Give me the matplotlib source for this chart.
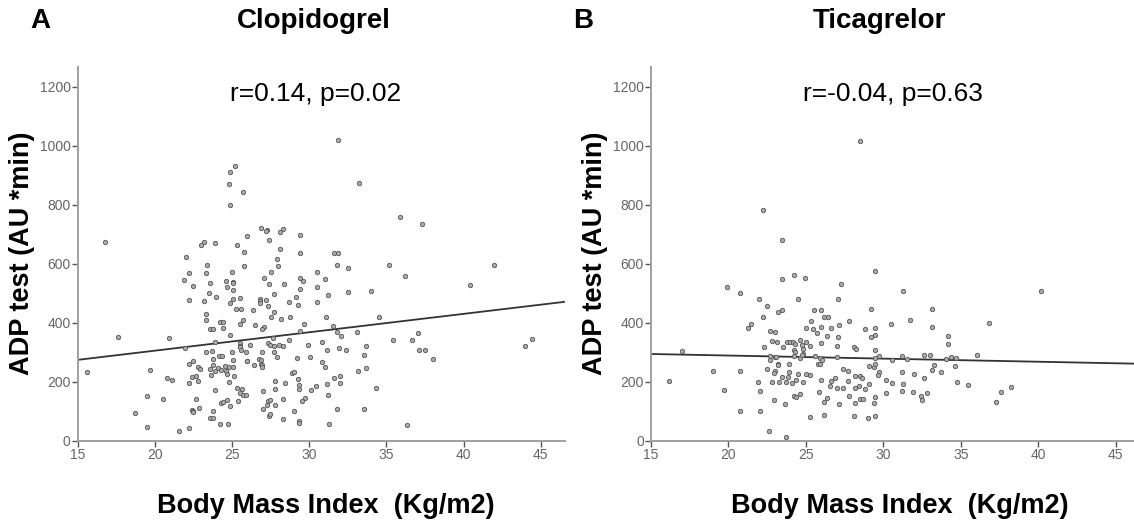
"""
ADP test vs Body Mass Index - Clopidogrel / Ticagrelor
Nuage de points + droite de régression (style SPSS)
"""

import numpy as np
import matplotlib
matplotlib.use("Agg")
import matplotlib.pyplot as plt

plt.rcParams["font.family"] = ["Liberation Sans", "DejaVu Sans"]

# --- Clopidogrel : BMI (kg/m2) et ADP test (AU*min) ---
bmi_clop = [
    25.2, 24.9, 24.8, 25.7, 24.9, 16.8, 26.9, 27.3, 27.2, 28.3, 28.1, 27.4, 26.0, 23.2, 23.0,
    23.9, 25.3, 25.8, 28.1, 27.9, 28.0, 22.0, 23.4, 25.8, 22.2, 23.3, 25.0, 27.5, 29.4, 29.4,
    27.1, 29.4, 21.9,
    31.9, 33.2, 35.9, 37.3, 31.6, 31.9, 31.8, 32.5, 35.2, 42.0, 30.5, 36.2, 31.0,
    22.5, 23.6, 24.6, 25.1, 25.05, 24.7, 25.1, 27.4, 28.4, 23.5, 24.0, 25.1, 25.5, 22.2, 23.2,
    24.9, 26.8, 26.85, 26.8, 27.2, 27.75, 29.15, 28.7, 25.25, 25.6, 26.35, 27.35, 27.75, 29.3,
    23.3, 23.3, 27.5, 28.2, 28.75, 25.7, 25.55, 24.2, 24.4, 26.5, 27.1, 26.95, 23.55, 23.8,
    24.45, 24.9, 17.6, 20.9, 27.65, 28.7, 23.9, 25.5, 25.5, 25.55, 25.6, 26.2, 27.35, 27.45,
    27.7, 28.05, 28.3, 21.95, 23.3, 23.7, 25.0, 25.9, 26.95, 27.75, 27.95, 29.2, 24.15, 24.35,
    23.8, 22.5, 25.05, 25.95, 26.0, 26.75, 26.9, 26.9, 26.4, 26.95, 26.95, 22.2, 22.8, 22.95,
    23.8, 24.55, 24.8, 25.05, 24.1, 24.3, 23.6, 23.9, 24.6, 24.65, 25.15, 23.65, 22.4, 22.65,
    19.7, 15.6, 20.8, 21.1, 22.2, 22.8, 23.9, 24.8, 25.35, 25.5, 25.7, 25.9, 25.65, 27.0, 27.8,
    27.8, 28.45, 28.9, 29.0, 29.25, 29.35, 29.35, 19.5, 20.55, 22.7, 22.85, 22.4, 22.45, 22.5,
    23.55, 23.75, 23.8, 24.3, 24.4, 24.7, 24.9, 24.2, 24.75, 25.4, 18.7, 19.5, 21.55, 22.2,
    27.0, 27.3, 27.35, 27.45, 27.4, 27.45, 27.8, 28.3, 28.3, 29.05, 29.35, 29.35,
    29.6, 40.4, 29.4, 30.5, 31.2, 32.5, 34.0, 30.5, 31.1, 34.5, 29.7, 31.55, 29.4, 31.8, 33.1,
    32.05, 37.05, 35.4, 36.65, 29.95, 30.85, 31.15, 31.95, 32.4, 33.7, 37.1, 37.5, 44.45, 44.0,
    38.0, 30.05, 30.85, 31.05, 33.55, 33.15, 33.7, 31.6, 32.0, 32.0, 31.15, 30.45, 30.1, 31.25,
    29.75, 29.55, 34.3, 31.8, 33.55, 31.3, 36.35,
]
adp_clop = [
    931, 910, 871, 843, 798, 674, 722, 716, 710, 718, 706, 680, 694, 673, 664,
    670, 664, 640, 649, 615, 591, 624, 594, 592, 569, 569, 573, 571, 697, 635,
    550, 550, 545,
    1020, 874, 757, 733, 635, 635, 595, 587, 597, 595, 571, 557, 547,
    526, 534, 540, 539, 533, 521, 510, 531, 531, 500, 488, 479, 483, 477, 475,
    468, 481, 474, 466, 476, 497, 488, 471, 447, 448, 443, 455, 437, 459,
    429, 410, 419, 411, 419, 409, 397, 404, 402, 391, 384, 378, 378, 378,
    381, 360, 351, 347, 349, 341, 335, 330, 322, 316, 308, 326, 332, 325,
    321, 326, 322, 313, 302, 305, 301, 302, 301, 301, 283, 279, 288, 286,
    277, 271, 272, 271, 270, 277, 272, 261, 255, 255, 249, 259, 249, 244,
    257, 253, 251, 250, 246, 241, 243, 236, 235, 226, 219, 223, 217, 220,
    241, 232, 211, 207, 194, 203, 173, 199, 179, 161, 155, 156, 175, 168, 203,
    176, 194, 228, 233, 210, 190, 175, 153, 141, 140, 111, 104, 99, 97,
    78, 78, 100, 129, 132, 139, 118, 58, 57, 133, 95, 48, 32, 43,
    109, 122, 134, 139, 85, 92, 122, 141, 73, 99, 67, 61,
    540, 529, 513, 521, 493, 504, 507, 469, 418, 419, 394, 389, 371, 370, 370,
    354, 366, 342, 343, 326, 335, 309, 315, 307, 320, 309, 308, 346, 321,
    277, 284, 266, 249, 291, 237, 246, 211, 219, 197, 192, 186, 172, 156,
    145, 133, 178, 108, 108, 55, 53,
]

# --- Ticagrelor ---
bmi_tica = [
    28.5, 22.25, 23.5, 24.25, 24.95, 23.45, 29.5,
    27.25, 19.9, 20.75, 22.0, 24.5, 27.1, 22.5, 23.2, 23.5, 25.55, 26.0, 26.15, 26.45, 22.25,
    21.45, 21.25, 25.35, 27.8, 27.15, 26.65, 26.0, 25.05, 25.5, 25.7, 28.8, 22.7, 23.0, 26.35,
    27.1, 24.65, 25.0, 24.75, 22.8, 23.15, 23.8, 24.0, 24.15, 24.3, 26.0, 22.3, 23.55, 24.25,
    24.3, 24.85, 24.85, 25.3, 27.05, 28.1, 28.25, 17.0, 22.7, 22.7, 23.0, 23.1, 23.2, 23.2,
    23.9, 24.25, 24.65, 24.75, 25.6, 25.9, 26.05, 25.8, 25.95, 27.05, 22.5, 23.0, 22.95, 23.9,
    24.5, 25.05, 25.3, 23.5, 23.85, 24.35, 22.85, 23.3, 23.75, 24.1, 24.85, 21.9, 27.4, 27.75,
    28.15, 28.5, 28.6, 26.0, 26.65, 26.9, 27.7, 26.55, 27.0, 27.4, 28.2, 28.45, 19.0, 16.2,
    20.75, 19.7, 22.05, 24.25, 24.4, 24.65, 22.95, 25.85, 26.35, 26.2, 27.15, 27.8, 28.15,
    28.5, 28.7, 23.65, 20.75, 22.05, 25.3, 26.15, 28.1, 29.05, 22.6, 23.7, 29.1, 29.1,
    31.3, 40.15, 29.2, 33.15, 31.75, 36.8, 30.5, 33.15, 29.45, 29.2, 29.45, 34.2, 34.15, 29.45,
    29.45, 29.75, 30.55, 31.2, 31.55, 32.65, 33.0, 34.05, 34.4, 34.7, 36.05, 29.4, 29.5, 29.75,
    29.65, 31.2, 33.25, 33.15, 33.75, 34.6, 32.0, 30.15, 30.55, 32.6, 31.3, 34.75, 35.5, 38.25,
    37.6, 37.25, 28.8, 31.2, 31.95, 32.8, 32.45, 32.5, 30.2, 29.45, 29.4, 29.45,
]
adp_tica = [
    1015, 782, 681, 562, 553, 547, 575,
    532, 520, 502, 482, 482, 480, 455, 437, 444, 443, 442, 421, 421, 419,
    397, 383, 405, 405, 392, 383, 387, 381, 380, 366, 378, 372, 370, 356,
    350, 343, 335, 326, 337, 335, 333, 336, 334, 329, 332, 318, 317, 309,
    302, 311, 295, 321, 321, 317, 311, 305, 286, 275, 284, 284, 259, 255,
    260, 286, 281, 289, 287, 281, 275, 261, 260, 283, 243, 236, 231, 233,
    227, 226, 223, 217, 217, 207, 200, 199, 199, 194, 200, 199, 243, 237,
    220, 218, 212, 207, 201, 214, 204, 186, 179, 178, 180, 186, 238, 204,
    235, 172, 167, 150, 148, 159, 139, 166, 146, 132, 125, 151, 128,
    142, 142, 123, 101, 100, 82, 87, 83, 78, 33, 12, 253, 191,
    509, 506, 448, 446, 409, 398, 394, 386, 381, 351, 359, 354, 329, 306,
    282, 286, 274, 287, 277, 291, 291, 277, 283, 282, 289, 250, 260, 233,
    224, 234, 255, 241, 232, 252, 225, 207, 196, 211, 191, 200, 189, 182,
    166, 131, 176, 169, 166, 161, 153, 139, 163, 149, 127, 85,
]

# droites de régression (ordonnée à BMI=15, pente)
fit_clop = (274, 6.24)
fit_tica = (294, -1.05)

panels = ["A", "B"]
drugs = ["Clopidogrel", "Ticagrelor"]
stats_txt = ["r=0.14, p=0.02", "r=-0.04, p=0.63"]

W, H = 1134, 529
fig = plt.figure(figsize=(W / 100, H / 100), dpi=100)

# positions en pixels (gauche, droite) des axes, bas/haut communs
ax_px = [(77.5, 565), (650.7, 1134)]
y_bot, y_top = 440.7, 66.7
xlims = [(15, 46.57), (15, 46.18)]
title_x = [314, 879]
letter_x = [40, 583]
stats_x = [316, 893]
xlabel_x = [326, 900]
ylabel_x = [22, 595]

datasets = [(bmi_clop, adp_clop, fit_clop), (bmi_tica, adp_tica, fit_tica)]

for i, (xs, ys, fit) in enumerate(datasets):
    l, r = ax_px[i]
    ax = fig.add_axes([l / W, 1 - y_bot / H, (r - l) / W, (y_bot - y_top) / H])
    ax.scatter(xs, ys, s=10, facecolor="#ababab", edgecolor="#555555",
               linewidths=0.6, zorder=3)
    # droite de régression sur toute la plage x
    x0, x1 = xlims[i]
    fx = np.array([x0, x1])
    ax.plot(fx, fit[0] + fit[1] * (fx - 15), color="#333333", lw=1.3, zorder=2)

    ax.set_xlim(x0, x1)
    ax.set_ylim(0, 1268)
    ax.set_xticks(range(15, 46, 5))
    ax.set_yticks(range(0, 1201, 200))
    for s in ["top", "right"]:
        ax.spines[s].set_visible(False)
    for s in ["left", "bottom"]:
        ax.spines[s].set_color("#a0a0a0")
        ax.spines[s].set_linewidth(1.4)
    ax.tick_params(direction="out", length=4, width=1, color="#555555",
                   labelcolor="#666666", labelsize=10, pad=1)

    ax.set_xlabel("Body Mass Index  (Kg/m2)", fontsize=19.5, fontweight="bold")
    ax.xaxis.set_label_coords((xlabel_x[i] - l) / (r - l), (y_bot - 506) / (y_bot - y_top))
    ax.xaxis.label.set_va("center")
    ax.set_ylabel("ADP test (AU *min)", fontsize=19.5, fontweight="bold")
    ax.yaxis.set_label_coords((ylabel_x[i] - l) / (r - l), 0.5)
    ax.yaxis.label.set_va("center")

    fig.text(letter_x[i] / W, 1 - 21 / H, panels[i], fontsize=20, fontweight="bold",
             ha="center", va="center")
    fig.text(title_x[i] / W, 1 - 21 / H, drugs[i], fontsize=20, fontweight="bold",
             ha="center", va="center")
    fig.text(stats_x[i] / W, 1 - 94 / H, stats_txt[i], fontsize=19,
             ha="center", va="center")

fig.savefig("out.png", dpi=100)
